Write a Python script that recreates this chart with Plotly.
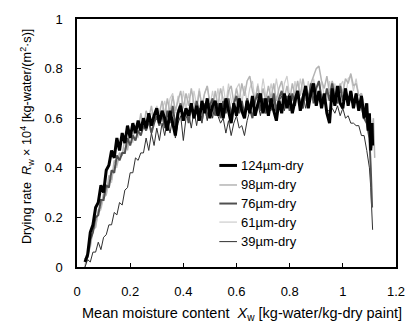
import plotly.graph_objects as go

x_common = [0.03, 0.04, 0.05, 0.06, 0.07, 0.08, 0.09, 0.10, 0.11, 0.12,
            0.13, 0.14, 0.15, 0.16, 0.17, 0.18, 0.19, 0.20, 0.21, 0.22,
            0.23, 0.24, 0.25, 0.26, 0.27, 0.28, 0.29, 0.30, 0.31, 0.32,
            0.33, 0.34, 0.35, 0.36, 0.37, 0.38, 0.39, 0.40, 0.41, 0.42,
            0.43, 0.44, 0.45, 0.46, 0.47, 0.48, 0.49, 0.50, 0.51, 0.52,
            0.53, 0.54, 0.55, 0.56, 0.57, 0.58, 0.59, 0.60, 0.61, 0.62,
            0.63, 0.64, 0.65, 0.66, 0.67, 0.68, 0.69, 0.70, 0.71, 0.72,
            0.73, 0.74, 0.75, 0.76, 0.77, 0.78, 0.79, 0.80, 0.81, 0.82,
            0.83, 0.84, 0.85, 0.86, 0.87, 0.88, 0.89, 0.90, 0.91, 0.92,
            0.93, 0.94, 0.95, 0.96, 0.97, 0.98, 0.99, 1.00, 1.01, 1.02,
            1.03, 1.04, 1.05, 1.06, 1.07, 1.08]

y_124 = [0.02, 0.05, 0.14, 0.17, 0.24, 0.26, 0.33, 0.30, 0.39, 0.41,
         0.47, 0.44, 0.52, 0.47, 0.54, 0.50, 0.57, 0.52, 0.58, 0.54,
         0.59, 0.55, 0.60, 0.56, 0.62, 0.57, 0.61, 0.64, 0.58, 0.63,
         0.60, 0.55, 0.63, 0.58, 0.53, 0.62, 0.65, 0.59, 0.64, 0.61,
         0.66, 0.60, 0.65, 0.59, 0.67, 0.62, 0.68, 0.60, 0.65, 0.67,
         0.61, 0.66, 0.60, 0.68, 0.63, 0.58, 0.66, 0.61, 0.68, 0.63,
         0.60, 0.67, 0.62, 0.69, 0.61, 0.66, 0.70, 0.62, 0.68, 0.61,
         0.68, 0.63, 0.59, 0.67, 0.62, 0.70, 0.64, 0.69, 0.62, 0.67,
         0.71, 0.63, 0.68, 0.73, 0.64, 0.70, 0.74, 0.65, 0.71, 0.64,
         0.70, 0.62, 0.58, 0.72, 0.65, 0.73, 0.66, 0.64, 0.72, 0.65,
         0.71, 0.64, 0.70, 0.63, 0.69, 0.60]
x_tail_124 = [1.09, 1.095, 1.10, 1.105, 1.11, 1.112]
y_tail_124 = [0.66, 0.55, 0.62, 0.47, 0.58, 0.49]

y_98 = [0.00, 0.05, 0.08, 0.15, 0.16, 0.23, 0.24, 0.30, 0.29, 0.37,
        0.35, 0.43, 0.41, 0.46, 0.45, 0.52, 0.47, 0.55, 0.53, 0.57,
        0.55, 0.62, 0.56, 0.63, 0.60, 0.65, 0.58, 0.64, 0.62, 0.67,
        0.61, 0.68, 0.62, 0.69, 0.63, 0.67, 0.71, 0.64, 0.70, 0.65,
        0.72, 0.66, 0.63, 0.71, 0.65, 0.70, 0.73, 0.66, 0.63, 0.71,
        0.65, 0.72, 0.67, 0.63, 0.71, 0.73, 0.66, 0.72, 0.67, 0.74,
        0.69, 0.75, 0.77, 0.71, 0.67, 0.73, 0.66, 0.72, 0.67, 0.73,
        0.68, 0.74, 0.67, 0.72, 0.75, 0.68, 0.73, 0.67, 0.74, 0.69,
        0.75, 0.69, 0.76, 0.70, 0.68, 0.74, 0.77, 0.80, 0.81, 0.75,
        0.72, 0.77, 0.70, 0.75, 0.71, 0.69, 0.74, 0.70, 0.76, 0.74,
        0.78, 0.73, 0.74, 0.69, 0.70, 0.65]
x_tail_98 = [1.09, 1.10, 1.105, 1.11, 1.115, 1.12]
y_tail_98 = [0.64, 0.60, 0.58, 0.55, 0.60, 0.44]

y_76 = [0.03, 0.04, 0.11, 0.14, 0.20, 0.21, 0.27, 0.27, 0.33, 0.32,
        0.39, 0.38, 0.45, 0.43, 0.46, 0.46, 0.52, 0.49, 0.53, 0.51,
        0.55, 0.53, 0.57, 0.55, 0.59, 0.54, 0.58, 0.61, 0.57, 0.62,
        0.56, 0.63, 0.58, 0.65, 0.57, 0.63, 0.66, 0.59, 0.64, 0.58,
        0.65, 0.60, 0.67, 0.62, 0.59, 0.66, 0.60, 0.65, 0.68, 0.61,
        0.66, 0.60, 0.67, 0.62, 0.68, 0.61, 0.66, 0.69, 0.62, 0.67,
        0.61, 0.68, 0.64, 0.60, 0.67, 0.70, 0.63, 0.68, 0.62, 0.69,
        0.64, 0.70, 0.63, 0.68, 0.71, 0.64, 0.69, 0.63, 0.70, 0.65,
        0.71, 0.66, 0.64, 0.73, 0.67, 0.74, 0.66, 0.72, 0.75, 0.68,
        0.66, 0.72, 0.67, 0.74, 0.68, 0.66, 0.73, 0.67, 0.72, 0.66,
        0.71, 0.65, 0.70, 0.64, 0.65, 0.60]
x_tail_76 = [1.09, 1.10, 1.105, 1.11]
y_tail_76 = [0.58, 0.52, 0.40, 0.24]

y_61 = [0.01, 0.06, 0.09, 0.15, 0.16, 0.22, 0.23, 0.28, 0.29, 0.35,
        0.34, 0.41, 0.40, 0.46, 0.45, 0.48, 0.48, 0.54, 0.50, 0.57,
        0.52, 0.59, 0.57, 0.60, 0.59, 0.62, 0.61, 0.65, 0.62, 0.63,
        0.67, 0.61, 0.68, 0.70, 0.62, 0.69, 0.63, 0.71, 0.64, 0.70,
        0.63, 0.71, 0.65, 0.72, 0.64, 0.70, 0.73, 0.65, 0.71, 0.64,
        0.72, 0.65, 0.73, 0.66, 0.74, 0.67, 0.64, 0.72, 0.74, 0.66,
        0.73, 0.66, 0.72, 0.75, 0.67, 0.74, 0.68, 0.76, 0.69, 0.67,
        0.74, 0.68, 0.76, 0.69, 0.66, 0.74, 0.77, 0.69, 0.67, 0.75,
        0.68, 0.76, 0.70, 0.67, 0.75, 0.69, 0.76, 0.70, 0.68, 0.75,
        0.69, 0.67, 0.75, 0.68, 0.74, 0.66, 0.73, 0.75, 0.68, 0.76,
        0.77, 0.71, 0.76, 0.69, 0.70, 0.65]
x_tail_61 = [1.09, 1.10, 1.105, 1.11, 1.115]
y_tail_61 = [0.60, 0.56, 0.52, 0.48, 0.53]

y_39 = [0.00, 0.03, 0.02, 0.06, 0.06, 0.10, 0.07, 0.12, 0.13, 0.17,
        0.17, 0.22, 0.21, 0.26, 0.25, 0.31, 0.32, 0.38, 0.38, 0.44,
        0.43, 0.46, 0.46, 0.52, 0.47, 0.54, 0.49, 0.56, 0.51, 0.58,
        0.53, 0.59, 0.54, 0.60, 0.52, 0.58, 0.61, 0.51, 0.60, 0.62,
        0.56, 0.63, 0.57, 0.64, 0.58, 0.65, 0.59, 0.66, 0.60, 0.66,
        0.61, 0.58, 0.60, 0.54, 0.59, 0.53, 0.58, 0.61, 0.56, 0.57,
        0.53, 0.59, 0.63, 0.62, 0.63, 0.66, 0.61, 0.67, 0.62, 0.64,
        0.63, 0.68, 0.62, 0.67, 0.69, 0.63, 0.68, 0.70, 0.64, 0.69,
        0.71, 0.65, 0.70, 0.64, 0.69, 0.72, 0.67, 0.68, 0.71, 0.66,
        0.67, 0.63, 0.63, 0.64, 0.62, 0.65, 0.61, 0.64, 0.60, 0.61,
        0.58, 0.58, 0.57, 0.57, 0.53, 0.53]
x_tail_39 = [1.09, 1.10, 1.105, 1.11, 1.112]
y_tail_39 = [0.47, 0.40, 0.32, 0.22, 0.15]

labels = ["124µm-dry", "98µm-dry", "76µm-dry", "61µm-dry", "39µm-dry"]
colors = ["#000000", "#b4b4b4", "#505050", "#cdcdcd", "#303030"]
widths = [3, 1.5, 2, 1.2, 1]

series = {
    "124µm-dry": (x_common + x_tail_124, y_124 + y_tail_124),
    "98µm-dry": (x_common + x_tail_98, y_98 + y_tail_98),
    "76µm-dry": (x_common + x_tail_76, y_76 + y_tail_76),
    "61µm-dry": (x_common + x_tail_61, y_61 + y_tail_61),
    "39µm-dry": (x_common + x_tail_39, y_39 + y_tail_39),
}

fig = go.Figure()
draw_order = [3, 1, 4, 2, 0]
for i in draw_order:
    xs, ys = series[labels[i]]
    fig.add_trace(go.Scatter(x=xs, y=ys, mode="lines", name=labels[i],
                             line=dict(color=colors[i], width=widths[i]),
                             showlegend=False))

# manual legend (paper coordinates)
L, R, T, B = 77, 402, 13, 267
W, H = R - L, B - T
leg_y = [163, 183, 202, 221, 241]
for i, lab in enumerate(labels):
    yp = (B - leg_y[i]) / H
    fig.add_shape(type="line", xref="paper", yref="paper",
                  x0=(222 - L) / W, x1=(240 - L) / W, y0=yp, y1=yp,
                  line=dict(color=colors[i], width=widths[i] if i != 0 else 3))
    fig.add_annotation(xref="paper", yref="paper", x=(242 - L) / W, y=yp,
                       text=lab, showarrow=False, xanchor="left", yanchor="middle",
                       font=dict(size=13, color="#000000"))

fig.add_annotation(xref="paper", yref="paper", x=(26 - L) / W, y=(B - 133) / H,
                   text="Drying rate  <i>R</i><sub>w</sub> × 10<sup>4</sup> [kg-water/(m<sup>2</sup>·s)]",
                   textangle=-90, showarrow=False, xanchor="center", yanchor="middle",
                   font=dict(size=12.7, color="#000000"))
fig.add_annotation(xref="paper", yref="paper", x=(245 - L) / W, y=(B - 315) / H,
                   text="Mean moisture content  <i>X</i><sub>w</sub> [kg-water/kg-dry paint]",
                   showarrow=False, xanchor="center", yanchor="middle",
                   font=dict(size=14.5, color="#000000"))

fig.update_layout(
    width=417, height=325,
    margin=dict(l=L, r=417 - R, t=T, b=325 - B),
    paper_bgcolor="white", plot_bgcolor="white",
    font=dict(family="Liberation Sans, Arial, sans-serif", size=13, color="#000000"),
)
fig.update_xaxes(range=[0, 1.2], dtick=0.2, tick0=0, showgrid=False, zeroline=False,
                 showline=True, linecolor="#000000", linewidth=1.5, mirror=True,
                 ticks="inside", ticklen=4, tickcolor="#000000",
                 ticklabelstandoff=12)
fig.update_yaxes(range=[0, 1], dtick=0.2, tick0=0, showgrid=False, zeroline=False,
                 showline=True, linecolor="#000000", linewidth=1.5, mirror=True,
                 ticks="inside", ticklen=4, tickcolor="#000000",
                 ticklabelstandoff=10)

fig.write_html("out.html")
